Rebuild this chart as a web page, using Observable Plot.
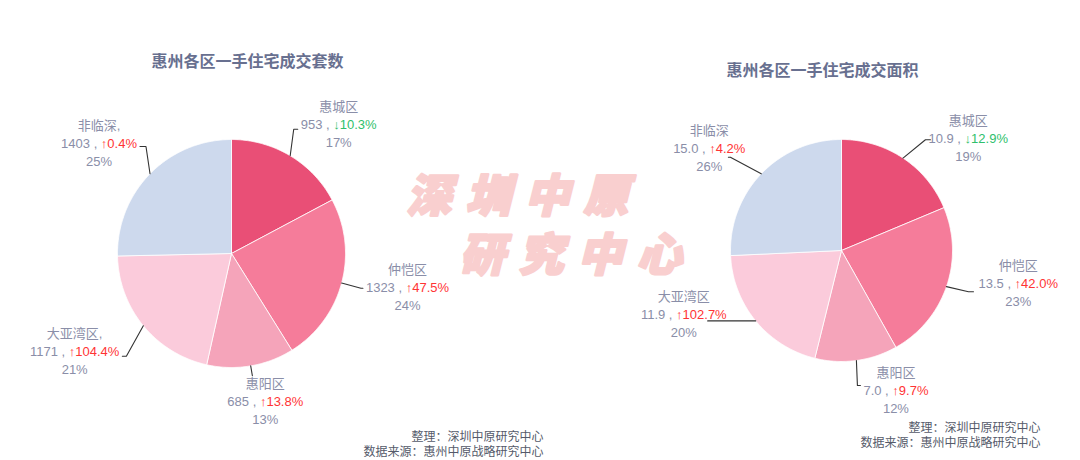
<!DOCTYPE html>
<html><head><meta charset="utf-8">
<script src="https://cdn.jsdelivr.net/npm/d3@7"></script>
<script src="https://cdn.jsdelivr.net/npm/@observablehq/plot@0.6"></script>
<style>html,body{margin:0;padding:0;background:#fff;overflow:hidden}</style>
</head><body><div id="chart"></div>
<script>
// ---- data ----
const districts   = ["惠城区","仲恺区","惠阳区","大亚湾区","非临深"];
const leftNames   = ["惠城区","仲恺区","惠阳区","大亚湾区,","非临深,"];
const rightNames  = ["惠城区","仲恺区","惠阳区","大亚湾区","非临深"];
const unitsSold   = [953, 1323, 685, 1171, 1403];
const unitsChange = [-10.3, 47.5, 13.8, 104.4, 0.4];
const unitsShare  = [17, 24, 13, 21, 25];
const areaSold    = [10.9, 13.5, 7.0, 11.9, 15.0];
const areaChange  = [-12.9, 42.0, 9.7, 102.7, 4.2];
const areaShare   = [19, 23, 12, 20, 26];
const titles      = ["惠州各区一手住宅成交套数", "惠州各区一手住宅成交面积"];
const footerLines = ["整理：深圳中原研究中心", "数据来源：惠州中原战略研究中心"];
const watermark   = ["深圳中原", "研究中心"];

// ---- styles / layout ----
const palette = ["#e94f76", "#f57c9a", "#f5a4ba", "#fbcbdb", "#cdd9ed"];
const LABEL_FONT = "'Liberation Sans','Noto Sans CJK SC',sans-serif";
const LABEL_SIZE = 13;
const ROW = 18;
const GREY = "#8a8ea8", RED = "#ff3434", GREEN = "#2fbf6c";

const charts = [
  {names: leftNames, values: unitsSold, change: unitsChange, share: unitsShare, fmt: v => String(v),
   cx: 231, cy: 253, r: 114, title: titles[0], tx: 247, ty: 61, fx: 543, fy: 437, fgap: 15,
   labels: [{da:-4.4,L1:25,L2:4,bdx:0,bdy:-4},{da:0,L1:20,L2:2,bdx:0,bdy:0},{da:0,L1:10,L2:0,bdx:-28,bdy:26},
            {da:-5,L1:33,L2:4,bdx:0,bdy:-4},{da:7,L1:23,L2:6,bdx:0,bdy:-3}]},
  {names: rightNames, values: areaSold, change: areaChange, share: areaShare, fmt: v => v.toFixed(1),
   cx: 841, cy: 250, r: 111, title: titles[1], tx: 822, ty: 70, fx: 1040, fy: 428, fgap: 15,
   labels: [{da:3.5,L1:28,L2:5,bdx:-5,bdy:-1},{da:-1,L1:22.5,L2:5,bdx:2,bdy:-8},{da:1,L1:25,L2:3,bdx:0,bdy:5},
            {da:0,L1:0,L2:48,bdx:22,bdy:-6},{da:-3.7,L1:34,L2:2,bdx:20,bdy:-8}]}
];

const ctx = document.createElement("canvas").getContext("2d");
ctx.font = `${LABEL_SIZE}px ${LABEL_FONT}`;
const measure = s => ctx.measureText(s).width;

const wedges = [], leaders = [], names = [], greys = [], ups = [], downs = [], pcts = [], heads = [], foots = [];
const rad = Math.PI / 180;
charts.forEach((c, ci) => {
  heads.push({x: c.tx, y: c.ty, text: c.title});
  footerLines.forEach((t, k) => foots.push({x: c.fx, y: c.fy + k * c.fgap, text: t}));
  const arcs = d3.pie().sort(null).value(d => d)(c.values);
  arcs.forEach((a, i) => {
    const key = ci + "-" + i, district = districts[i];
    const n = Math.max(2, Math.ceil((a.endAngle - a.startAngle) / 0.01));
    wedges.push({key, district, x: c.cx, y: c.cy});
    for (let k = 0; k <= n; k++) {
      const t = a.startAngle + (a.endAngle - a.startAngle) * k / n;
      wedges.push({key, district, x: c.cx + c.r * Math.sin(t), y: c.cy - c.r * Math.cos(t)});
    }
    wedges.push({key, district, x: c.cx, y: c.cy});
    // label
    const L = c.labels[i];
    const mid = (a.startAngle + a.endAngle) / 2;
    const side = mid < Math.PI ? 1 : -1;
    const p0 = [c.cx + c.r * Math.sin(mid), c.cy - c.r * Math.cos(mid)];
    const m1 = mid + L.da * rad;
    const p1 = [c.cx + (c.r + L.L1) * Math.sin(m1), c.cy - (c.r + L.L1) * Math.cos(m1)];
    const p2 = [p1[0] + side * L.L2, p1[1]];
    [p0, p1, p2].forEach(p => leaders.push({key, x: p[0], y: p[1]}));
    const gtxt = c.fmt(c.values[i]) + " , ";
    const ctxt = (c.change[i] < 0 ? "↓" : "↑") + Math.abs(c.change[i]).toFixed(1) + "%";
    const wg = measure(gtxt), w = wg + measure(ctxt);
    const left = side > 0 ? p2[0] + 3 + L.bdx : p2[0] - 3 + L.bdx - w;
    const row = p2[1] + L.bdy;
    const bc = left + w / 2;
    names.push({x: bc, y: row - ROW, text: c.names[i]});
    pcts.push({x: bc, y: row + ROW, text: c.share[i] + "%"});
    greys.push({x: left, y: row, text: gtxt});
    (c.change[i] < 0 ? downs : ups).push({x: left + wg, y: row, text: ctxt});
  });
});

const wm = watermark.map((t, k) => ({x: 517 + k * 53, y: 197 + k * 59, text: t}));
const lbl = {x: "x", y: "y", text: "text", fontFamily: LABEL_FONT, fontSize: LABEL_SIZE};

const chart = Plot.plot({
  width: 1080, height: 460, margin: 0,
  x: {domain: [0, 1080], range: [0, 1080], axis: null},
  y: {domain: [0, 460], range: [0, 460], axis: null},
  color: {type: "ordinal", domain: districts, range: palette},
  style: {background: "#fff"},
  marks: [
    Plot.text(wm, {x: "x", y: "y", text: "text", fontSize: 45, fontWeight: 900, fontStyle: "italic",
      fontFamily: "'Noto Sans CJK SC',sans-serif", fill: "#f9cfcf", stroke: "#f9cfcf", strokeWidth: 2.5}),
    Plot.line(wedges, {x: "x", y: "y", z: "key", fill: "district", stroke: "#fff", strokeWidth: 0.8, curve: "linear"}),
    Plot.line(leaders, {x: "x", y: "y", z: "key", stroke: "#333", strokeWidth: 1.1, curve: "linear"}),
    Plot.text(names, {...lbl, fill: GREY}),
    Plot.text(pcts, {...lbl, fill: GREY}),
    Plot.text(greys, {...lbl, fill: GREY, textAnchor: "start"}),
    Plot.text(ups, {...lbl, fill: RED, textAnchor: "start"}),
    Plot.text(downs, {...lbl, fill: GREEN, textAnchor: "start"}),
    Plot.text(heads, {x: "x", y: "y", text: "text", fontSize: 16, fontWeight: "bold",
      fontFamily: "'Noto Sans CJK SC',sans-serif", fill: "#687090"}),
    Plot.text(foots, {x: "x", y: "y", text: "text", fontSize: 12, textAnchor: "end",
      fontFamily: "'Noto Sans CJK SC',sans-serif", fill: "#555a6a"})
  ]
});
// widen the watermark glyph spacing like the reference stamp
d3.select(chart).selectAll("text").filter(function () { return watermark.includes(this.textContent); })
  .attr("letter-spacing", 14).attr("dx", 7);
document.getElementById("chart").append(chart);
</script>
</body></html>
